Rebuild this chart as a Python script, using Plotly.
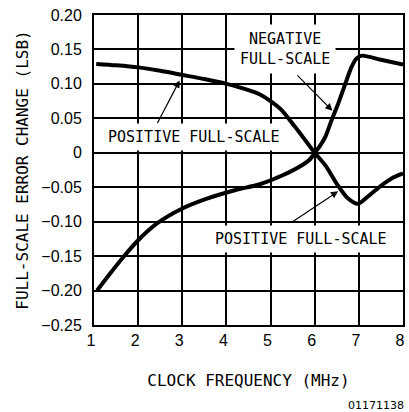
import plotly.graph_objects as go

# Data
pos_fs_x = [1.05, 1.5, 2.0, 2.5, 3.0, 3.5, 4.0, 4.5, 4.75, 5.0, 5.25, 5.55, 5.8, 6.0, 6.25, 6.5, 6.75, 6.98, 7.25, 7.5, 7.75, 8.0]
pos_fs_y = [0.129, 0.127, 0.124, 0.119, 0.113, 0.107, 0.100, 0.091, 0.085, 0.075, 0.062, 0.038, 0.017, 0.000, -0.019, -0.045, -0.066, -0.074, -0.061, -0.048, -0.037, -0.030]

neg_fs_x = [1.07, 1.37, 1.67, 2.0, 2.42, 3.0, 3.54, 4.21, 4.74, 5.26, 5.71, 5.9, 6.0, 6.12, 6.24, 6.38, 6.53, 6.72, 6.83, 6.95, 7.07, 7.5, 8.0]
neg_fs_y = [-0.200, -0.175, -0.151, -0.127, -0.103, -0.081, -0.067, -0.054, -0.046, -0.033, -0.018, -0.009, 0.000, 0.010, 0.023, 0.047, 0.071, 0.105, 0.124, 0.137, 0.141, 0.135, 0.128]

x_ticks = [1, 2, 3, 4, 5, 6, 7, 8]
y_ticks = [-0.25, -0.20, -0.15, -0.10, -0.05, 0, 0.05, 0.10, 0.15, 0.20]
y_tick_text = ["\u22120.25", "\u22120.20", "\u22120.15", "\u22120.10", "\u22120.05", "0", "0.05", "0.10", "0.15", "0.20"]

MONO = "DejaVu Sans Mono"
SANS = "Liberation Sans"

fig = go.Figure()
for xs, ys in [(pos_fs_x, pos_fs_y), (neg_fs_x, neg_fs_y)]:
    fig.add_trace(go.Scatter(x=xs, y=ys, mode="lines",
                             line=dict(color="black", width=4, shape="spline", smoothing=0.7),
                             showlegend=False, hoverinfo="skip"))

label_font = dict(family=MONO, size=15, color="black")
annotations = [
    # text labels with white boxes
    dict(x=3.27, y=0.0236, text="POSITIVE FULL-SCALE", showarrow=False, bgcolor="white",
         borderpad=4, font=label_font),
    dict(x=5.32, y=0.150, text="NEGATIVE<br>FULL-SCALE", showarrow=False, bgcolor="white",
         borderpad=5, font=label_font),
    dict(x=5.70, y=-0.125, text="POSITIVE FULL-SCALE", showarrow=False, bgcolor="white",
         borderpad=4, font=label_font),
    # arrows
    dict(x=2.94, y=0.105, ax=2.42, ay=0.041, axref="x", ayref="y", text="", showarrow=True,
         arrowhead=2, arrowsize=1.2, arrowwidth=1.2, arrowcolor="black"),
    dict(x=6.40, y=0.061, ax=5.575, ay=0.1145, axref="x", ayref="y", text="", showarrow=True,
         arrowhead=2, arrowsize=1.2, arrowwidth=1.2, arrowcolor="black"),
    dict(x=6.53, y=-0.056, ax=5.43, ay=-0.103, axref="x", ayref="y", text="", showarrow=True,
         arrowhead=2, arrowsize=1.2, arrowwidth=1.2, arrowcolor="black"),
    # figure number
    dict(x=1.0, y=0, xref="paper", yref="paper", xanchor="right", yanchor="middle",
         xshift=3, yshift=-80, text="01171138", showarrow=False,
         font=dict(family="DejaVu Sans", size=11, color="black")),
]

fig.update_layout(
    width=409, height=412,
    margin=dict(l=94, r=4, t=15, b=87),
    paper_bgcolor="white", plot_bgcolor="white",
    annotations=annotations,
    xaxis=dict(range=[1, 8], tickvals=x_ticks, showgrid=True, gridcolor="black", gridwidth=1.5,
               showline=True, linecolor="black", linewidth=2, mirror=True, zeroline=False,
               ticks="", ticklabelstandoff=0, ticklabelshift=-3,
               tickfont=dict(family=SANS, size=16, color="black"),
               title=dict(text="CLOCK FREQUENCY (MHz)", font=dict(family=MONO, size=16, color="black"),
                          standoff=27)),
    yaxis=dict(range=[-0.25, 0.20], tickvals=y_ticks, ticktext=y_tick_text, showgrid=True,
               gridcolor="black", gridwidth=1.5,
               showline=True, linecolor="black", linewidth=2, mirror=True, zeroline=False,
               ticks="", ticklabelstandoff=7,
               tickfont=dict(family=SANS, size=16, color="black"),
               title=dict(text="FULL-SCALE ERROR CHANGE (LSB)", font=dict(family=MONO, size=16, color="black"),
                          standoff=9)),
)

fig.write_html("out.html", config={"displayModeBar": False},
               post_script="document.body.style.margin='0';document.body.style.padding='0';")
